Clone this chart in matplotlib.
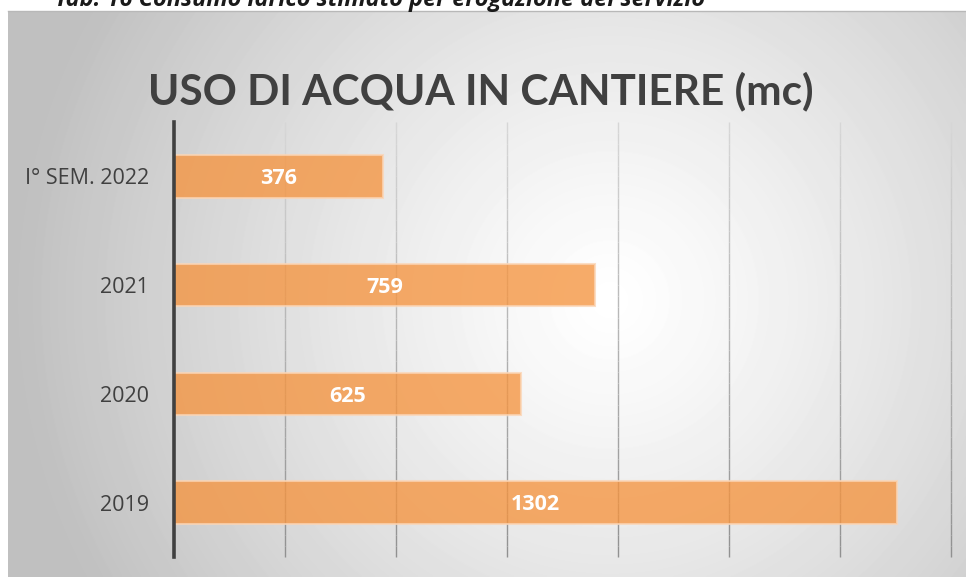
import numpy as np
import matplotlib
matplotlib.use('Agg')
import matplotlib.pyplot as plt
from matplotlib.collections import LineCollection

# chart data, top to bottom as in the original
categories = ['I° SEM. 2022', '2021', '2020', '2019']
values = [376, 759, 625, 1302]
title = 'USO DI ACQUA IN CANTIERE (mc)'
caption = 'Tab. 16 Consumo idrico stimato per erogazione del servizio'
xgrid = [200, 400, 600, 800, 1000, 1200, 1400]

W, H = 966, 577
fig = plt.figure(figsize=(W / 100, H / 100), dpi=100)
fig.patch.set_facecolor('white')

# gray panel with radial gradient (white spot right of centre)
px0, py0 = 8, 11
bg = fig.add_axes([px0 / W, 0, 1 - px0 / W, 1 - py0 / H])
gx, gy = np.meshgrid(np.arange(px0, W), np.arange(py0, H))
dist = np.hypot(gx - 610, gy - 300)
shade = 1.0 - 0.25 * np.clip(dist / 600.0, 0, 1) ** 1.2
bg.imshow(shade, cmap='gray', vmin=0, vmax=1, aspect='auto',
          extent=[0, 1, 0, 1], interpolation='bilinear')
bg.set_axis_off()
fig.add_artist(plt.Line2D([px0 / W, 1], [1 - py0 / H, 1 - py0 / H],
                          color='#b8b8b8', lw=1))

# the caption of the table, clipped by the top of the image as in the source
fig.text(55 / W, 1 - 6 / H, caption, fontsize=16.9, fontweight='bold',
         fontstyle='italic', family='Open Sans', color='#1a1a1a',
         va='baseline', ha='left')

ax = fig.add_axes([174 / W, 20 / H, 777 / W, 435 / H])
ax.patch.set_alpha(0)
ys = np.arange(len(categories))
ylo, yhi = len(categories) - 0.5, -0.5

# vertical gridlines, fading from light at the top to darker at the bottom
nseg = 40
edges = np.linspace(yhi, ylo, nseg + 1)
segs, cols = [], []
for gxv in xgrid:
    for i in range(nseg):
        segs.append([(gxv, edges[i]), (gxv, edges[i + 1])])
        g = 0.84 - 0.27 * (i / (nseg - 1))
        cols.append((g, g, g))
ax.add_collection(LineCollection(segs, colors=cols, linewidths=1, zorder=1,
                                 clip_on=False))

ax.barh(ys, values, height=0.39, color='#F5943F', alpha=0.78,
        edgecolor='#FBD5B5', linewidth=1.5, zorder=3)
for y, v in zip(ys, values):
    ax.text(v / 2, y + 0.02, str(v), ha='center', va='center', color='white',
            fontsize=15.5, fontweight='bold', family='Open Sans', zorder=4)

ax.set_xlim(0, 1400)
ax.set_ylim(ylo, yhi)
ax.set_xticks([])
ax.set_yticks(ys)
ax.set_yticklabels(categories, fontsize=15.5, family='Open Sans', color='#404040')
ax.tick_params(axis='both', length=0)
ax.tick_params(axis='y', pad=18)
for s in ['top', 'right', 'bottom']:
    ax.spines[s].set_visible(False)
ax.spines['left'].set_color('#404040')
ax.spines['left'].set_linewidth(2.6)
ax.spines['left'].set_zorder(5)

fig.text(481 / W, 1 - 104 / H, title, fontsize=30.5, fontweight='bold',
         family='Lato', color='#404040', ha='center', va='baseline')

fig.savefig('out.png', dpi=100)
